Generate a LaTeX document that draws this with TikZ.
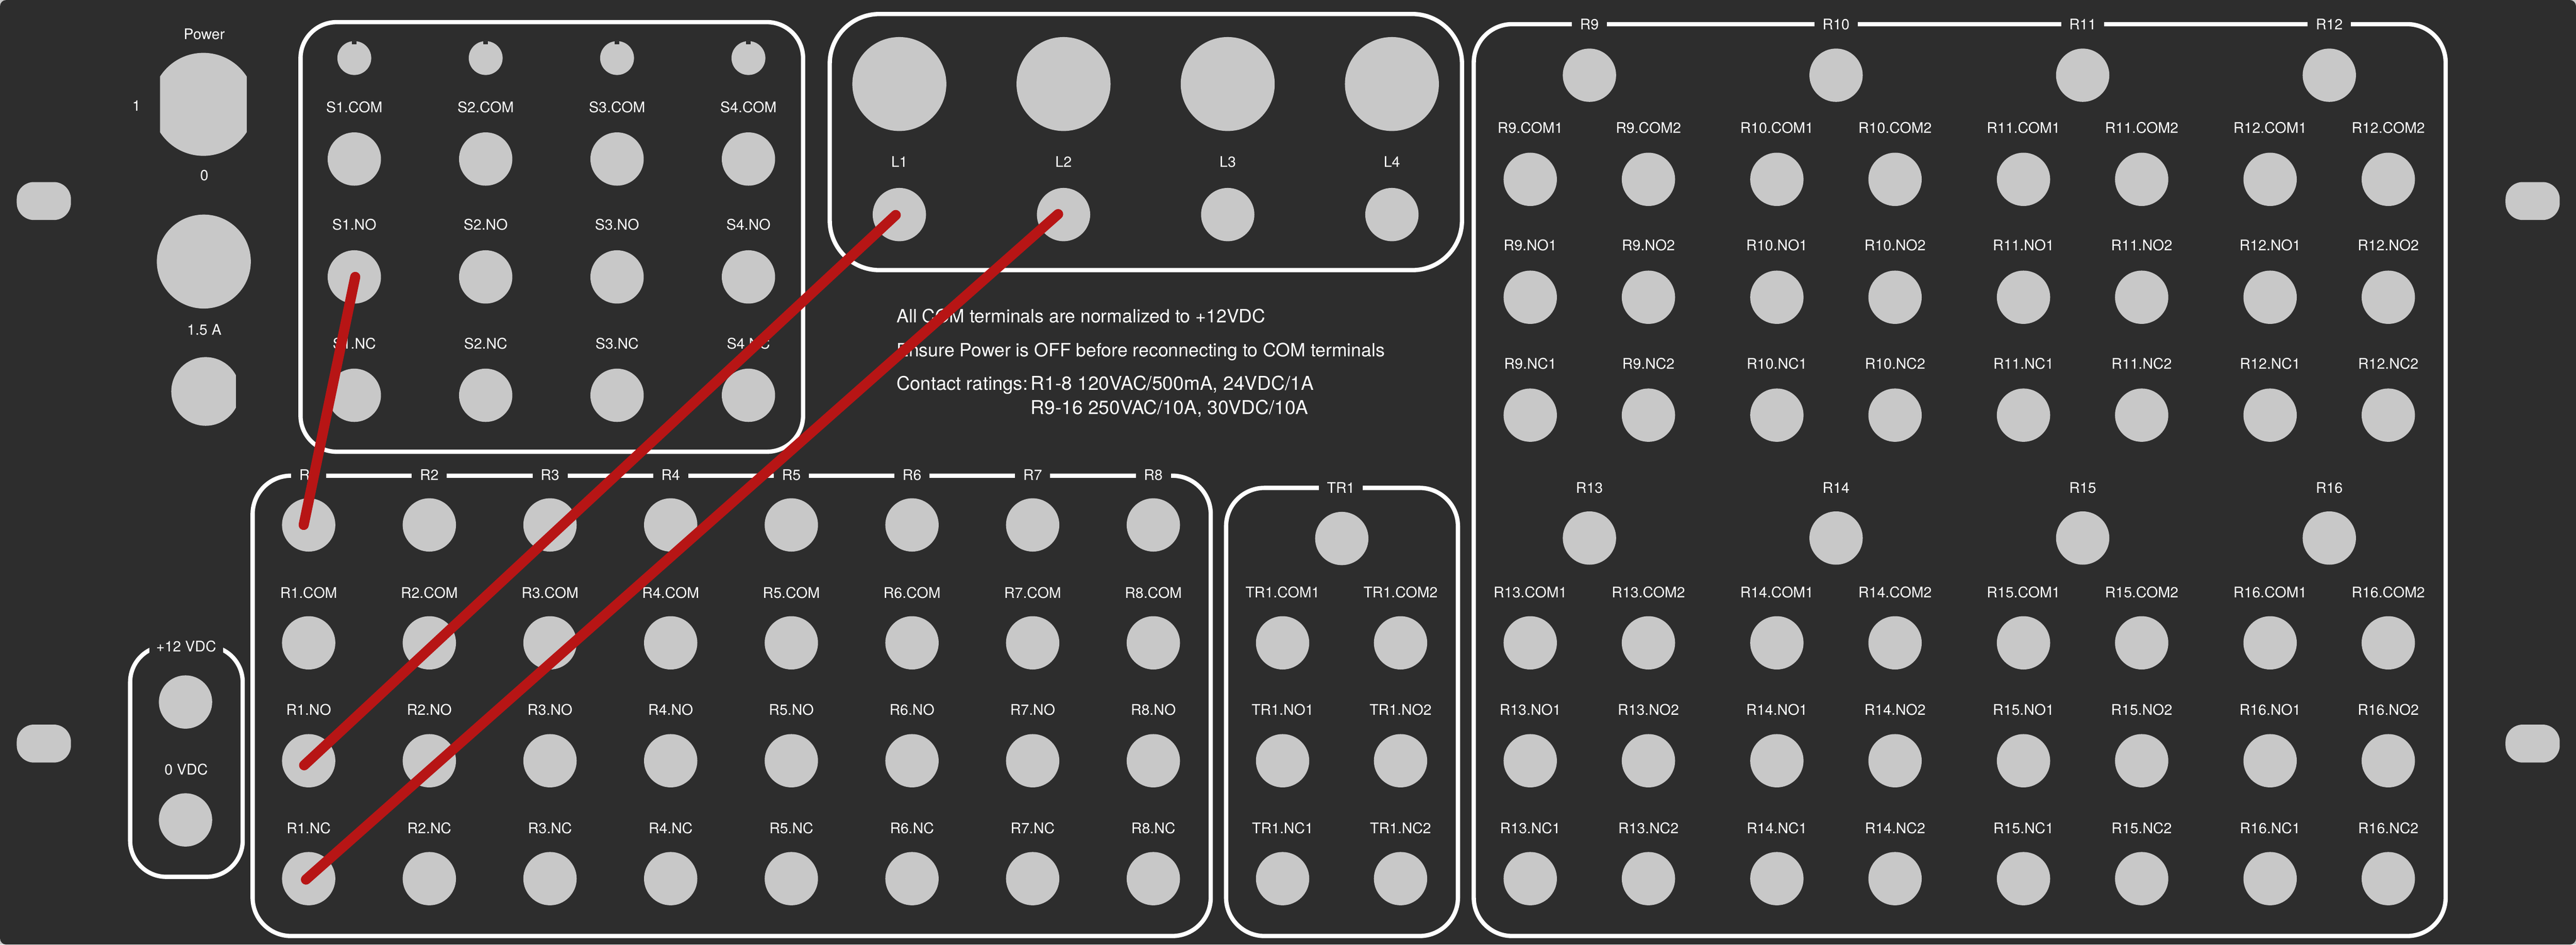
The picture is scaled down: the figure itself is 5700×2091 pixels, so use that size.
\documentclass[tikz,border=0pt]{standalone}
\usepackage{fontspec}
\setmainfont{TeX Gyre Heros}
\definecolor{panel}{HTML}{2D2D2D}
\definecolor{metal}{HTML}{C8C8C8}
\definecolor{wire}{HTML}{B71515}
\tikzset{
  jack/.style={circle,fill=metal,minimum size=118pt,inner sep=0pt,outer sep=0pt},
  knob/.style={circle,fill=metal,minimum size=75pt,inner sep=0pt,outer sep=0pt},
  bigjack/.style={circle,fill=metal,minimum size=208pt,inner sep=0pt,outer sep=0pt},
  lab/.style={text=white,inner sep=0pt,outer sep=0pt,font=\fontsize{32.5}{40}\selectfont},
  hdr/.style={lab,fill=panel,inner xsep=18pt,inner ysep=4pt},
  note/.style={text=white,inner sep=0pt,outer sep=0pt,anchor=base west},
  boxline/.style={draw=white,line width=9.5pt,rounded corners=85pt},
  cable/.style={draw=wire,line width=22.5pt,line cap=round},
  hole/.style={fill=metal,rounded corners=38pt}
}
\begin{document}
\begin{tikzpicture}[x=1pt,y=-1pt]
\useasboundingbox (0,0) rectangle (5700,2091);
\fill[metal] (0,0) rectangle (5700,2091);
\fill[panel,rounded corners=14pt] (0,0) rectangle (5700,2091);
% mounting holes
\fill[hole] (37,403) rectangle (157,487);
\fill[hole] (37,1604) rectangle (157,1688);
\fill[hole] (5544,403) rectangle (5664,487);
\fill[hole] (5544,1604) rectangle (5664,1688);
% power section
\node[lab] (lpower) at (452,76) {Power};
\begin{scope}
  \clip (354,100) rectangle (546,360);
  \fill[metal] (450,231) circle[radius=114pt];
\end{scope}
\node[lab] (lone) at (302,234) {1};
\node[lab] (lzero) at (452,388) {0};
\node[bigjack] (pwrjack) at (451,579) {};
\node[lab] (lfuse) at (452,730) {1.5 A};
\begin{scope}
  \clip (370,780) rectangle (522,950);
  \fill[metal] (455,866.5) circle[radius=76pt];
\end{scope}
% switch box
\draw[boxline,rounded corners=80pt] (665,49) rectangle (1777,1000);
\foreach \i in {1,2,3,4}{
  \pgfmathsetmacro\x{784+290.7*(\i-1)}
  \node[knob] (S\i k) at (\x,128.5) {};
  \fill[panel] (\x-5,91) rectangle (\x+5,98);
  \node[lab] (S\i COMl) at (\x,237) {S\i.COM};
  \node[jack] (S\i COM) at (\x,352) {};
  \node[lab] (S\i NOl) at (\x,497) {S\i.NO};
  \node[jack] (S\i NO) at (\x,613) {};
  \node[lab] (S\i NCl) at (\x,761) {S\i.NC};
  \node[jack] (S\i NC) at (\x,875) {};
}
% lamp box
\draw[boxline,rounded corners=110pt] (1836,31) rectangle (3235,598);
\foreach \i in {1,2,3,4}{
  \pgfmathsetmacro\x{1990+363.3*(\i-1)}
  \node[bigjack] (L\i b) at (\x,186) {};
  \node[lab] (L\i l) at (\x,358) {L\i};
  \node[jack] (L\i) at (\x,475) {};
}
% notes
\node[note,font=\fontsize{40.6}{50}\selectfont] (n1) at (1984,714) {All COM terminals are normalized to +12VDC};
\node[note,font=\fontsize{40.6}{50}\selectfont] (n2) at (1984,789) {Ensure Power is OFF before reconnecting to COM terminals};
\node[note,font=\fontsize{41.5}{50}\selectfont] (n3) at (1984,864) {Contact ratings:};
\node[note,font=\fontsize{42.3}{50}\selectfont] (n4) at (2281,864) {R1-8 120VAC/500mA, 24VDC/1A};
\node[note,font=\fontsize{42.3}{50}\selectfont] (n5) at (2281,917) {R9-16 250VAC/10A, 30VDC/10A};
% power rails
\draw[boxline,rounded corners=80pt] (288,1430) rectangle (537,1941);
\node[hdr,inner xsep=15pt] (l12v) at (412,1431) {+12 VDC};
\node[jack] (p12) at (410.5,1554) {};
\node[lab] (l0v) at (412,1703) {0 VDC};
\node[jack] (p0) at (410.5,1815) {};
% relays 1-8
\draw[boxline] (559,1053) rectangle (2679,2072);
\foreach \i in {1,...,8}{
  \pgfmathsetmacro\x{683+267*(\i-1)}
  \node[hdr] (R\i l) at (\x,1051) {R\i};
  \node[jack] (R\i) at (\x,1162) {};
  \node[lab] (R\i COMl) at (\x,1312) {R\i.COM};
  \node[jack] (R\i COM) at (\x,1423) {};
  \node[lab] (R\i NOl) at (\x,1571) {R\i.NO};
  \node[jack] (R\i NO) at (\x,1684) {};
  \node[lab] (R\i NCl) at (\x,1833) {R\i.NC};
  \node[jack] (R\i NC) at (\x,1945) {};
}
% TR1
\draw[boxline] (2713,1080) rectangle (3226,2072);
\node[hdr] (TRl) at (2967,1080) {TR1};
\node[jack] (TR) at (2969,1192) {};
\foreach \k/\x in {1/2838,2/3099}{
  \node[lab] (TRCOM\k l) at (\x,1311) {TR1.COM\k};
  \node[jack] (TRCOM\k) at (\x,1423) {};
  \node[lab] (TRNO\k l) at (\x,1570.5) {TR1.NO\k};
  \node[jack] (TRNO\k) at (\x,1684) {};
  \node[lab] (TRNC\k l) at (\x,1833) {TR1.NC\k};
  \node[jack] (TRNC\k) at (\x,1945) {};
}
% relays 9-16
\draw[boxline] (3261,53.5) rectangle (5411.5,2072);
\foreach \i/\n in {0/9,1/10,2/11,3/12}{
  \pgfmathsetmacro\x{3517+545.7*\i}
  \pgfmathsetmacro\xa{\x-131}
  \pgfmathsetmacro\xb{\x+130.5}
  \node[hdr] (R\n l) at (\x,53.5) {R\n};
  \node[jack] (R\n) at (\x,166.5) {};
  \foreach \k/\xx in {1/\xa,2/\xb}{
    \node[lab] (R\n COM\k l) at (\xx,282.5) {R\n.COM\k};
    \node[jack] (R\n COM\k) at (\xx,397) {};
    \node[lab] (R\n NO\k l) at (\xx,543) {R\n.NO\k};
    \node[jack] (R\n NO\k) at (\xx,658) {};
    \node[lab] (R\n NC\k l) at (\xx,805) {R\n.NC\k};
    \node[jack] (R\n NC\k) at (\xx,919) {};
  }
}
\foreach \i/\n in {0/13,1/14,2/15,3/16}{
  \pgfmathsetmacro\x{3517+545.7*\i}
  \pgfmathsetmacro\xa{\x-131}
  \pgfmathsetmacro\xb{\x+130.5}
  \node[lab] (R\n l) at (\x,1080) {R\n};
  \node[jack] (R\n) at (\x,1191) {};
  \foreach \k/\xx in {1/\xa,2/\xb}{
    \node[lab] (R\n COM\k l) at (\xx,1311) {R\n.COM\k};
    \node[jack] (R\n COM\k) at (\xx,1423) {};
    \node[lab] (R\n NO\k l) at (\xx,1570.5) {R\n.NO\k};
    \node[jack] (R\n NO\k) at (\xx,1684) {};
    \node[lab] (R\n NC\k l) at (\xx,1833) {R\n.NC\k};
    \node[jack] (R\n NC\k) at (\xx,1945) {};
  }
}
% patch cables
\coordinate (w1a) at ([xshift=2pt]S1NO.center);
\coordinate (w1b) at ([xshift=-11pt]R1.center);
\coordinate (w2a) at ([xshift=-8pt,yshift=-1pt]L1.center);
\coordinate (w2b) at ([xshift=-10pt,yshift=-10pt]R1NO.center);
\coordinate (w3a) at ([xshift=-12pt,yshift=1pt]L2.center);
\coordinate (w3b) at ([xshift=-6pt,yshift=-2pt]R1NC.center);
\draw[cable] (w1a) -- (w1b);
\draw[cable] (w2a) -- (w2b);
\draw[cable] (w3a) -- (w3b);
\end{tikzpicture}
\end{document}
